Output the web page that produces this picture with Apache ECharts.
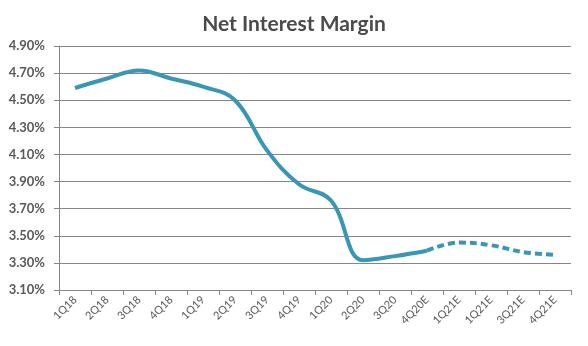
<!DOCTYPE html>
<html><head><meta charset="utf-8">
<script src="https://cdn.jsdelivr.net/npm/echarts@6/dist/echarts.min.js"></script>
<style>html,body{margin:0;padding:0;background:#fff}#c{width:588px;height:346px}</style>
</head><body><div id="c"></div>
<script>
const categories = ['1Q18','2Q18','3Q18','4Q18','1Q19','2Q19','3Q19','4Q19','1Q20','2Q20','3Q20','4Q20E','1Q21E','1Q21E','3Q21E','4Q21E'];
const actual = [4.59, 4.66, 4.72, 4.66, 4.60, 4.50, 4.13, 3.88, 3.76, 3.32, 3.35, 3.39, null, null, null, null];
const estimate = [null, null, null, null, null, null, null, null, null, null, null, 3.39, 3.45, 3.43, 3.38, 3.36];
const yTicks = { min: 3.1, max: 4.9, interval: 0.2 };

const chart = echarts.init(document.getElementById('c'));
const font = 'Lato, "Open Sans", sans-serif';
chart.setOption({
  animation: false,
  title: { text: 'Net Interest Margin', left: 'center', top: 9,
    textStyle: { fontFamily: font, fontSize: 21, fontWeight: 'bold', color: '#4a4a4a' } },
  grid: { left: 59, right: 17, top: 46, bottom: 56, containLabel: false },
  xAxis: { type: 'category', data: categories, boundaryGap: true,
    axisLine: { lineStyle: { color: '#868686', width: 1 } },
    axisTick: { show: true, length: 5, lineStyle: { color: '#868686' } },
    axisLabel: { rotate: 45, fontFamily: font, fontSize: 11, color: '#595959', margin: 8, interval: 0 },
    splitLine: { show: false } },
  yAxis: { type: 'value', min: yTicks.min, max: yTicks.max, interval: yTicks.interval,
    axisLine: { show: true, lineStyle: { color: '#868686', width: 1 } },
    axisTick: { show: true, length: 5, lineStyle: { color: '#868686' } },
    axisLabel: { fontFamily: font, fontSize: 13, fontWeight: 'bold', color: '#595959', margin: 14,
      formatter: v => v.toFixed(2) + '%' },
    splitLine: { lineStyle: { color: '#868686', width: 1 } } },
  series: [
    { type: 'line', data: actual, smooth: 0.4, showSymbol: false, symbol: 'none',
      lineStyle: { color: '#3a96b5', width: 4 } },
    { type: 'line', data: estimate, smooth: 0.4, showSymbol: false, symbol: 'none',
      lineStyle: { color: '#3a96b5', width: 4, type: [7, 4] } }
  ]
});
</script></body></html>
